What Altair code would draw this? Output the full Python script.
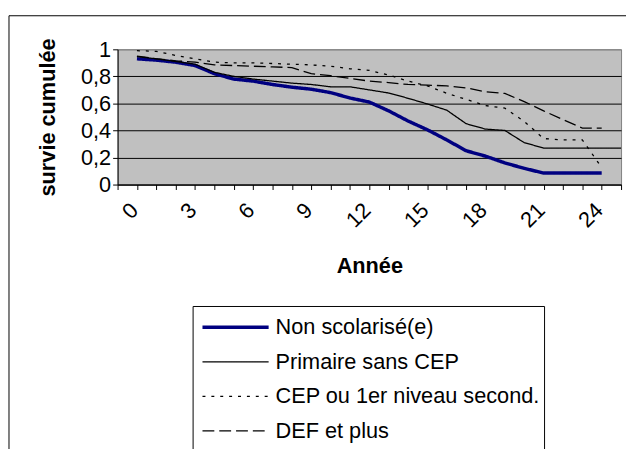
import altair as alt
import pandas as pd

# ---- data ----
years = list(range(26))
series_names = ["Non scolarisé(e)", "Primaire sans CEP",
                "CEP ou 1er niveau second.", "DEF et plus"]
non_scol = [0.93, 0.92, 0.905, 0.88, 0.82, 0.78, 0.765, 0.74, 0.72, 0.705,
            0.68, 0.64, 0.61, 0.545, 0.47, 0.405, 0.33, 0.25, 0.21, 0.16,
            0.12, 0.085, 0.085, 0.085, 0.085]
primaire = [0.946, 0.93, 0.91, 0.89, 0.83, 0.80, 0.78, 0.765, 0.75, 0.74,
            0.723, 0.723, 0.70, 0.677, 0.638, 0.596, 0.55, 0.45, 0.41, 0.40,
            0.31, 0.27, 0.27, 0.27, 0.27, 0.27]
cep = [0.99, 0.985, 0.955, 0.93, 0.905, 0.90, 0.90, 0.895, 0.89, 0.885,
       0.875, 0.856, 0.844, 0.81, 0.765, 0.73, 0.675, 0.63, 0.584, 0.565,
       0.467, 0.34, 0.33, 0.33, 0.126]
def_plus = [0.95, 0.93, 0.915, 0.905, 0.885, 0.88, 0.875, 0.87, 0.865, 0.82,
            0.805, 0.785, 0.765, 0.754, 0.74, 0.735, 0.73, 0.715, 0.686, 0.674,
            0.613, 0.545, 0.48, 0.418, 0.418]
y_ticks = [0, 0.2, 0.4, 0.6, 0.8, 1]

rows = []
for name, vals in zip(series_names, [non_scol, primaire, cep, def_plus]):
    for yr, v in zip(years, vals):
        rows.append({"annee": yr, "survie": v, "serie": name})
df = pd.DataFrame(rows)

FONT = "Liberation Sans"

legend = alt.Legend(
    orient="none", legendX=76, legendY=260, title=None,
    labelFont=FONT, labelFontSize=22, labelColor="black", labelLimit=0,
    strokeColor="black", fillColor="white", padding=4,
    symbolType="stroke", symbolSize=4489, clipHeight=35, rowPadding=0,
    labelOffset=5, symbolOffset=4,
)

lines = alt.Chart(df).mark_line(
    interpolate="linear", xOffset=alt.ExprRef("bandwidth('x')/2")
).encode(
    x=alt.X(
        "annee:O", title="Année",
        scale=alt.Scale(type="band", domain=years, paddingInner=0, paddingOuter=0),
        axis=alt.Axis(
            labelAngle=-45, labelAlign="right", labelBaseline="top",
            labelPadding=10, labelOverlap=False, tickBand="extent",
            labelExpr="toNumber(datum.value) % 3 == 0 ? datum.label : ''",
            labelFont=FONT, labelFontSize=22, labelColor="black",
            tickColor="black", tickSize=5, domainColor="black",
            titleFont=FONT, titleFontSize=22, titleFontWeight="bold",
            titleColor="black", titleY=82, titleBaseline="middle",
            grid=False,
        ),
    ),
    y=alt.Y(
        "survie:Q", title="survie cumulée",
        scale=alt.Scale(domain=[0, 1], nice=False, zero=True),
        axis=alt.Axis(
            values=y_ticks,
            labelExpr="replace(format(datum.value, '.1~f'), '.', ',')",
            labelFont=FONT, labelFontSize=22, labelColor="black",
            labelPadding=2, tickColor="black", tickSize=5,
            domainColor="black", grid=True,
            gridColor={"condition": {"test": "datum.value >= 1", "value": "#808080"},
                       "value": "black"},
            titleFont=FONT, titleFontSize=22, titleFontWeight="bold",
            titleColor="black", titleX=-71, titleBaseline="middle",
        ),
    ),
    color=alt.Color("serie:N", sort=series_names, legend=legend,
                    scale=alt.Scale(domain=series_names,
                                    range=["#000080", "black", "black", "black"])),
    strokeDash=alt.StrokeDash("serie:N", sort=series_names, legend=legend,
                              scale=alt.Scale(type="ordinal", domain=series_names,
                                              range=[[1, 0], [1, 0], [3, 6], [12, 5]])),
    strokeWidth=alt.StrokeWidth("serie:N", sort=series_names, legend=legend,
                                scale=alt.Scale(type="ordinal", domain=series_names,
                                                range=[3.5, 1.3, 1.3, 1.3])),
)

frame = alt.Chart(alt.Data(values=[{"k": 1}])).mark_rect(
    fill="transparent", stroke="black", strokeWidth=1
).encode(
    x=alt.value(-110), x2=alt.value(530),
    y=alt.value(-34), y2=alt.value(430),
)

chart = alt.layer(frame, lines).properties(
    width=510, height=137,
    autosize=alt.AutoSizeParams(type="none"),
    padding={"left": 111, "top": 39, "right": 5, "bottom": 265},
    background="white",
).configure_view(
    fill="#C0C0C0", stroke="#808080", strokeWidth=1,
)

chart.save("out.html", embed_options={"renderer": "svg", "actions": False})
